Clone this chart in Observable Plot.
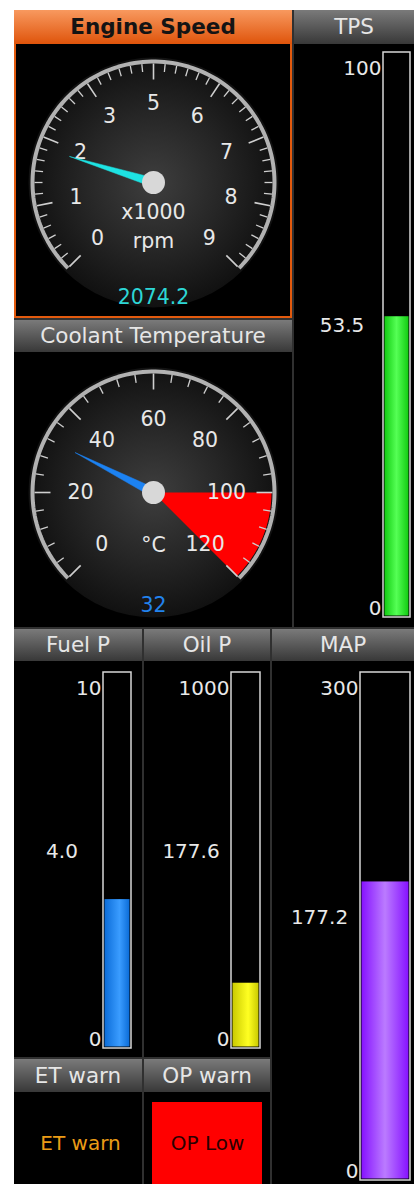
<!DOCTYPE html>
<html><head><meta charset="utf-8">
<script src="https://cdn.jsdelivr.net/npm/d3@7"></script>
<script src="https://cdn.jsdelivr.net/npm/@observablehq/plot@0.6"></script>
<style>
html,body{margin:0;padding:0;background:#fff;}
#dash{position:relative;width:414px;height:1184px;overflow:hidden;font-family:"DejaVu Sans",sans-serif;}
.grid{position:absolute;left:14px;top:10px;width:400px;height:1174px;background:#303030;}
.panel{position:absolute;background:#000;box-sizing:border-box;}
.hdr{position:absolute;box-sizing:border-box;background:linear-gradient(#7a7a7a,#383838);color:#e6e6e6;font-size:21.5px;text-align:center;white-space:nowrap;overflow:hidden;}
.hdr.orange{background:linear-gradient(#f8995f,#df540b);color:#141414;font-weight:bold;font-size:21.5px;}
</style></head><body>
<div id="dash"><div class="grid"></div></div>
<script>
// ---------------- data ----------------
const dialTitles = ["Engine Speed", "Coolant Temperature"];
const rpmValue = 2074.2;                 // rpm
const rpmMin = 0, rpmMax = 9;            // scale in x1000 rpm
const rpmLabelValues = [0, 1.125, 2.25, 3.375, 4.5, 5.625, 6.75, 7.875, 9];
const rpmLabels = ["0", "1", "2", "3", "5", "6", "7", "8", "9"];
const rpmUnits = ["x1000", "rpm"];
const rpmValueText = "2074.2";

const ectValue = 32;
const ectMin = 0, ectMax = 120;
const ectLabelValues = [0, 20, 40, 60, 80, 100, 120];
const ectLabels = ["0", "20", "40", "60", "80", "100", "120"];
const ectUnits = ["°C"];
const ectValueText = "32";
const ectRedZone = [100, 120];

const barNames = ["TPS", "Fuel P", "Oil P", "MAP"];
const barMax = [100, 10, 1000, 300];
const barMaxLabels = ["100", "10", "1000", "300"];
const barValues = [53.5, 4.0, 177.6, 177.2];
const barValueLabels = ["53.5", "4.0", "177.6", "177.2"];

const warnNames = ["ET warn", "OP warn"];
const warnTexts = ["ET warn", "OP Low"];
const warnActive = [false, true];

// ---------------- layout & style ----------------
const dash = document.getElementById("dash");
const FONT = "DejaVu Sans";
const LABEL = "#e8e8e8";

function panel(x, y, w, h, title, hh, orange) {
  const p = document.createElement("div");
  p.className = "panel";
  Object.assign(p.style, {left: x + "px", top: y + "px", width: w + "px", height: h + "px"});
  if (orange) p.style.border = "2px solid #e25a0e";
  dash.appendChild(p);
  const hd = document.createElement("div");
  hd.className = "hdr" + (orange ? " orange" : "");
  Object.assign(hd.style, {left: x + "px", top: y + "px", width: w + "px", height: hh + "px", lineHeight: hh + "px"});
  hd.textContent = title;
  dash.appendChild(hd);
}
function place(svg, left, top) {
  svg.style.position = "absolute";
  svg.style.left = left + "px";
  svg.style.top = top + "px";
  dash.appendChild(svg);
}
function defs(svg) {
  let d = d3.select(svg).select("defs");
  if (d.empty()) d = d3.select(svg).insert("defs", ":first-child");
  return d;
}
function linGrad(svg, id, stops) {
  const g = defs(svg).append("linearGradient").attr("id", id)
    .attr("x1", 0).attr("x2", 1).attr("y1", 0).attr("y2", 0);
  stops.forEach(([o, c]) => g.append("stop").attr("offset", o).attr("stop-color", c));
}
function radGrad(svg, id, stops) {
  const g = defs(svg).append("radialGradient").attr("id", id);
  stops.forEach(([o, c]) => g.append("stop").attr("offset", o).attr("stop-color", c));
}

panel(14, 10, 278, 308, dialTitles[0], 34, true);
panel(14, 320, 278, 307, dialTitles[1], 32, false);
panel(294, 10, 120, 617, barNames[0], 34, false);
panel(14, 629, 128, 428, barNames[1], 32, false);
panel(144, 629, 126, 428, barNames[2], 32, false);
panel(272, 629, 142, 555, barNames[3], 32, false);
panel(14, 1059, 128, 125, warnNames[0], 33, false);
panel(144, 1059, 126, 125, warnNames[1], 33, false);

// ---------------- dial gauges ----------------
function dial(o) {
  const ang = d3.scaleLinear().domain([o.min, o.max]).range([225, -45]);
  const pol = (v, r) => { const a = ang(v) * Math.PI / 180; return {x: r * Math.cos(a), y: r * Math.sin(a)}; };
  const step = (o.max - o.min) / 135;
  const rim = d3.range(0, 136).map(i => pol(o.min + i * step, 121));
  const ticks = d3.range(0, o.nTicks + 1).map(i => {
    const v = o.min + i * (o.max - o.min) / o.nTicks;
    const major = i % o.sub === 0;
    const a = pol(v, 119), b = pol(v, major ? 103 : 111);
    return {x1: a.x, y1: a.y, x2: b.x, y2: b.y, major};
  });
  const labels = o.labelValues.map((v, i) => ({...pol(v, o.labelR), t: o.labels[i]}));
  const marks = [
    Plot.dot([{x: 0, y: 0}], {x: "x", y: "y", r: 125, fill: `url(#disc${o.id})`, stroke: "none"})
  ];
  if (o.red) {
    const zs = (o.red[1] - o.red[0]) / 40;
    const poly = [{x: 0, y: 0}, ...d3.range(0, 41).map(i => pol(o.red[0] + i * zs, 118)), {x: 0, y: 0}];
    marks.push(Plot.line(poly, {x: "x", y: "y", fill: "#ff0000", stroke: "none", curve: "linear"}));
  }
  marks.push(
    Plot.link(ticks, {x1: "x1", y1: "y1", x2: "x2", y2: "y2", stroke: "#cfcfcf", strokeWidth: d => d.major ? 1.6 : 1.3}),
    Plot.line(rim, {x: "x", y: "y", stroke: "#b2b2b2", strokeWidth: 4, strokeLinecap: "butt"}),
    Plot.text(labels, {x: "x", y: "y", text: "t", fill: LABEL, fontSize: 20.5}),
    Plot.text(o.units.map((t, i) => ({t, y: o.unitY[i]})), {x: () => 0, y: "y", text: "t", fill: LABEL, fontSize: 20.5})
  );
  const tip = pol(o.value, 88);
  const a = ang(o.value) * Math.PI / 180;
  const nx = -Math.sin(a) * 4.5, ny = Math.cos(a) * 4.5;
  const needle = [{x: nx, y: ny}, tip, {x: -nx, y: -ny}, {x: nx, y: ny}];
  marks.push(
    Plot.line(needle, {x: "x", y: "y", fill: o.color, stroke: o.color, strokeWidth: 0.5, curve: "linear"}),
    Plot.dot([{x: 0, y: 0}], {x: "x", y: "y", r: 11.5, fill: "#d8d8d8", stroke: "none"}),
    Plot.text([{t: o.valueText, y: o.valueY}], {x: () => 0, y: "y", text: "t", fill: o.textColor, fontSize: 20.5})
  );
  const svg = Plot.plot({
    width: o.w, height: o.h, margin: 0,
    x: {domain: [-o.cx, o.w - o.cx], range: [0, o.w], axis: null},
    y: {domain: [-(o.h - o.cy), o.cy], range: [o.h, 0], axis: null},
    style: {background: "transparent", fontFamily: FONT, overflow: "visible", color: LABEL},
    marks
  });
  radGrad(svg, `disc${o.id}`, [[0, "#3e3e3e"], [0.55, "#262626"], [1, "#111111"]]);
  place(svg, o.left, o.top);
}

dial({id: 0, left: 16, top: 44, w: 274, h: 272, cx: 137, cy: 138,
  min: rpmMin, max: rpmMax, value: rpmValue / 1000, nTicks: 48, sub: 6, labelR: 79,
  labelValues: rpmLabelValues, labels: rpmLabels, units: rpmUnits, unitY: [-30, -59],
  valueText: rpmValueText, valueY: -115, color: "#1ee3e3", textColor: "#2dd6d6"});
dial({id: 1, left: 16, top: 352, w: 274, h: 273, cx: 137, cy: 140,
  min: ectMin, max: ectMax, value: ectValue, nTicks: 30, sub: 5, labelR: 73,
  labelValues: ectLabelValues, labels: ectLabels, units: ectUnits, unitY: [-53],
  valueText: ectValueText, valueY: -113, color: "#1c82f2", textColor: "#2283ee", red: ectRedZone});

// ---------------- bar gauges ----------------
const barGrads = [
  [[0, "#12cc12"], [0.5, "#55ff55"], [1, "#12cc12"]],
  [[0, "#0b6cd8"], [0.6, "#3a9cff"], [1, "#0b6cd8"]],
  [[0, "#caca00"], [0.6, "#ffff22"], [1, "#caca00"]],
  [[0, "#8612ff"], [0.5, "#bb7bff"], [1, "#8612ff"]]
];
const barLayout = [
  {left: 296, top: 44, w: 116, h: 581, mt: 8, mb: 8, ml: 87, mr: 2},
  {left: 16, top: 661, w: 124, h: 394, mt: 11, mb: 7, ml: 87, mr: 9},
  {left: 146, top: 661, w: 122, h: 394, mt: 11, mb: 7, ml: 85, mr: 8},
  {left: 274, top: 661, w: 138, h: 523, mt: 11, mb: 4, ml: 86, mr: 2}
];
barNames.forEach((name, i) => {
  const L = barLayout[i];
  const svg = Plot.plot({
    width: L.w, height: L.h,
    marginTop: L.mt, marginBottom: L.mb, marginLeft: L.ml, marginRight: L.mr,
    x: {type: "band", domain: [name], padding: 0, axis: null},
    y: {domain: [0, barMax[i]], axis: null},
    style: {background: "transparent", fontFamily: FONT, overflow: "visible", color: LABEL},
    marks: [
      Plot.barY([{name, v: barValues[i]}], {x: "name", y: "v", fill: `url(#bar${i})`, inset: 1.5}),
      Plot.barY([{name, v: barMax[i]}], {x: "name", y: "v", fill: "none", stroke: "#d6d6d6", strokeWidth: 1.5}),
      Plot.text([{v: barMax[i], t: barMaxLabels[i]}], {y: "v", text: "t", frameAnchor: "left", textAnchor: "end", lineAnchor: "top", dx: -2, dy: 8, fill: LABEL, fontSize: 20}),
      Plot.text([{v: 0, t: "0"}], {y: "v", text: "t", frameAnchor: "left", textAnchor: "end", lineAnchor: "bottom", dx: -2, dy: -3, fill: LABEL, fontSize: 20}),
      Plot.text([{v: barMax[i] / 2, t: barValueLabels[i]}], {y: "v", text: "t", frameAnchor: "left", textAnchor: "middle", lineAnchor: "bottom", dx: -L.ml / 2 + 2, dy: -3, fill: LABEL, fontSize: 20})
    ]
  });
  linGrad(svg, `bar${i}`, barGrads[i]);
  place(svg, L.left, L.top);
});

// ---------------- warnings ----------------
const warnData = warnNames.map((name, i) => ({name, text: warnTexts[i], active: warnActive[i]}));
const warnSvg = Plot.plot({
  width: 256, height: 92, margin: 0,
  x: {type: "band", domain: warnNames, padding: 0, axis: null},
  style: {background: "transparent", fontFamily: FONT, overflow: "visible"},
  marks: [
    Plot.cell(warnData.filter(d => d.active), {x: "name", fill: "#ff0000", insetLeft: 10, insetRight: 8, insetTop: 10}),
    Plot.text(warnData.filter(d => d.active), {x: "name", text: "text", fill: "#2a0000", fontSize: 20, dy: 5, dx: 1}),
    Plot.text(warnData.filter(d => !d.active), {x: "name", text: "text", fill: "#eb9c16", fontSize: 20, dy: 5, dx: 2})
  ]
});
place(warnSvg, 14, 1092);
</script>
</body></html>
